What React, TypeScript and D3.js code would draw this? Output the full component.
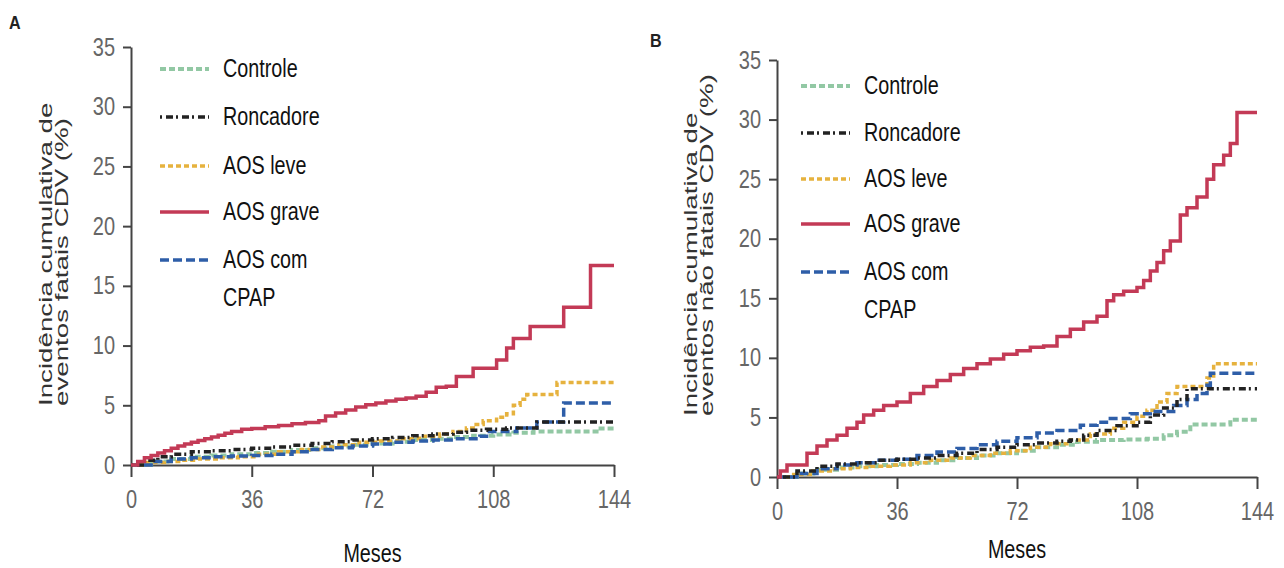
import * as d3 from 'd3';
import {useEffect, useRef} from "react";

// eixos
const monthTicks = [0, 36, 72, 108, 144];
const pctTicks = [0, 5, 10, 15, 20, 25, 30, 35];
const groups = ["Controle", "Roncadore", "AOS leve", "AOS grave", "AOS com CPAP"];

// painel A - eventos fatais (mes, %)
const controleA = [[0, 0], [6, 0.3], [12, 0.5], [18, 0.7], [24, 0.8], [30, 0.9], [36, 1.0], [42, 1.1], [48, 1.25], [54, 1.4], [60, 1.55], [66, 1.7], [72, 1.8], [78, 1.95], [84, 2.1], [90, 2.2], [96, 2.35], [102, 2.45], [108, 2.55], [114, 2.7], [120, 2.8], [140, 3.05], [144, 3.05]];
const roncadoreA = [[0, 0], [4, 0.4], [8, 0.7], [12, 0.9], [18, 1.1], [24, 1.2], [30, 1.3], [36, 1.4], [42, 1.5], [48, 1.65], [54, 1.8], [60, 1.95], [66, 2.1], [72, 2.2], [78, 2.3], [84, 2.45], [90, 2.6], [96, 2.75], [100, 2.9], [106, 3.0], [112, 3.1], [121, 3.6], [144, 3.6]];
const leveA = [[0, 0], [5, 0.2], [10, 0.3], [15, 0.4], [20, 0.5], [26, 0.6], [32, 0.7], [38, 0.9], [44, 1.1], [50, 1.3], [56, 1.5], [62, 1.7], [68, 1.9], [74, 2.0], [80, 2.2], [86, 2.4], [92, 2.6], [96, 2.8], [100, 3.1], [102, 3.4], [105, 3.7], [109, 4.0], [112, 4.3], [114, 5.0], [116, 5.5], [118, 5.9], [127, 6.9], [144, 6.9]];
const graveA = [[0, 0], [2, 0.3], [4, 0.6], [6, 0.8], [8, 1.0], [10, 1.2], [12, 1.4], [14, 1.6], [16, 1.75], [18, 1.9], [20, 2.05], [22, 2.2], [24, 2.35], [26, 2.5], [28, 2.65], [30, 2.8], [33, 3.0], [36, 3.05], [40, 3.2], [44, 3.3], [48, 3.45], [52, 3.55], [56, 3.7], [58, 4.1], [61, 4.35], [64, 4.6], [67, 4.85], [70, 5.05], [73, 5.2], [76, 5.35], [79, 5.5], [82, 5.6], [85, 5.75], [88, 6.1], [91, 6.5], [94, 6.6], [97, 7.4], [102, 8.1], [109, 8.8], [112, 9.8], [114, 10.6], [119, 11.6], [129, 13.2], [137, 16.7], [144, 16.7]];
const cpapA = [[0, 0], [6, 0.3], [12, 0.5], [18, 0.6], [24, 0.7], [30, 0.75], [36, 0.8], [42, 0.9], [48, 1.1], [54, 1.3], [60, 1.45], [66, 1.6], [72, 1.75], [78, 1.9], [84, 2.0], [90, 2.1], [96, 2.2], [104, 2.4], [106, 2.8], [115, 3.1], [121, 3.6], [129, 5.2], [144, 5.2]];

// painel B - eventos nao fatais (mes, %)
const controleB = [[0, 0], [6, 0.3], [12, 0.6], [18, 0.8], [24, 0.9], [30, 1.0], [36, 1.1], [42, 1.2], [48, 1.4], [54, 1.6], [60, 1.8], [66, 2.0], [72, 2.2], [78, 2.5], [84, 2.7], [90, 2.95], [96, 3.1], [104, 3.15], [111, 3.2], [116, 3.5], [120, 3.8], [124, 4.4], [136, 4.8], [144, 4.8]];
const roncadoreB = [[0, 0], [6, 0.5], [12, 0.9], [18, 1.1], [24, 1.2], [30, 1.4], [36, 1.5], [42, 1.6], [48, 1.8], [54, 2.0], [60, 2.3], [66, 2.5], [72, 2.7], [78, 2.85], [84, 3.0], [88, 3.1], [92, 3.5], [96, 3.9], [102, 4.3], [108, 4.6], [112, 5.2], [116, 5.8], [120, 6.5], [123, 7.4], [144, 7.4]];
const leveB = [[0, 0], [5, 0.2], [10, 0.5], [16, 0.7], [22, 0.8], [28, 0.9], [34, 1.0], [40, 1.2], [46, 1.4], [52, 1.6], [58, 1.8], [64, 2.0], [70, 2.2], [76, 2.5], [82, 2.8], [88, 3.1], [94, 3.6], [100, 4.1], [104, 4.6], [108, 5.1], [111, 5.6], [114, 6.3], [117, 7.0], [120, 7.6], [129, 8.3], [131, 9.5], [144, 9.5]];
const graveB = [[0, 0], [1, 0.5], [3, 1.0], [9, 2.0], [12, 2.6], [15, 3.1], [18, 3.5], [21, 4.1], [24, 4.6], [26, 5.2], [29, 5.6], [32, 6.0], [36, 6.3], [40, 7.0], [44, 7.6], [48, 8.1], [52, 8.6], [56, 9.1], [60, 9.5], [64, 9.9], [68, 10.3], [72, 10.6], [76, 10.9], [80, 11.0], [84, 11.8], [88, 12.4], [92, 13.0], [96, 13.5], [99, 14.8], [101, 15.3], [104, 15.6], [108, 15.9], [110, 16.5], [112, 17.3], [114, 18.0], [116, 19.0], [118, 19.8], [121, 22.0], [123, 22.6], [126, 23.5], [129, 25.0], [131, 26.2], [134, 27.0], [136, 28.0], [138, 30.6], [144, 30.6]];
const cpapB = [[0, 0], [6, 0.3], [12, 0.7], [18, 1.0], [24, 1.2], [30, 1.4], [36, 1.5], [42, 1.8], [48, 2.1], [54, 2.4], [60, 2.7], [66, 3.0], [72, 3.3], [78, 3.7], [84, 3.9], [91, 4.35], [96, 4.6], [100, 4.9], [106, 5.3], [112, 5.5], [119, 6.0], [123, 6.5], [126, 7.0], [129, 7.7], [130, 8.7], [144, 8.7]];

const colors = ["#92c8a4", "#222222", "#e6b23e", "#c33a56", "#2e5ea8"];
const dashes = ["6,3", "2,4,7,3", "5,3", "none", "9,4"];
const widths = [4, 3.5, 3.5, 3.5, 3.5];
const drawOrder = [0, 2, 4, 1, 3];

const sans = "'Liberation Sans', Arial, sans-serif";
const tickSqueeze = 0.8;  // rotulos dos eixos estreitos
const textSqueeze = 0.76; // imita Arial Narrow

function styleAxis(g) {
    g.selectAll("path, line").attr("stroke", "#444").attr("stroke-width", 2);
    g.selectAll("text")
        .attr("fill", "#666").attr("font-size", 25).attr("font-family", sans)
        .attr("x", function () { return (+d3.select(this).attr("x") || 0) / tickSqueeze; })
        .attr("transform", `scale(${tickSqueeze},1)`);
}

function Panel({letter, letterPos, xRange, yRange, series, title, titleX, titleStart, legendX, legendRows, mesesY}) {
    const gx = useRef();
    const gy = useRef();
    const x = d3.scaleLinear([0, 144], xRange);
    const y = d3.scaleLinear([0, 35], yRange);
    const line = d3.line().x(d => x(d[0])).y(d => y(d[1])).curve(d3.curveStepAfter);

    useEffect(() => {
        d3.select(gx.current)
            .call(d3.axisBottom(x).tickValues(monthTicks).tickSize(12).tickSizeOuter(0).tickPadding(13))
            .call(styleAxis);
    }, [gx, x]);
    useEffect(() => {
        d3.select(gy.current)
            .call(d3.axisLeft(y).tickValues(pctTicks).tickSize(8).tickSizeOuter(0).tickPadding(8))
            .call(styleAxis);
    }, [gy, y]);

    const tx = legendX + 63;
    return (
        <g>
            <text x={letterPos[0]} y={letterPos[1]} fontFamily={sans} fontWeight="bold" fontSize={19} fill="#222"
                  transform={`translate(${letterPos[0] * 0.15},0) scale(0.85,1)`}>{letter}</text>
            {title.map((t, i) => (
                <text key={i} transform={`translate(${titleX[i]},${titleStart}) rotate(-90) scale(1.54,1)`}
                      fontFamily={sans} fontSize={18} fill="#333">{t}</text>
            ))}
            <g ref={gx} transform={`translate(0,${yRange[0]})`}/>
            <g ref={gy} transform={`translate(${xRange[0]},0)`}/>
            {drawOrder.map(i => (
                <path key={i} d={line(series[i])} fill="none" stroke={colors[i]} strokeWidth={widths[i]}
                      strokeDasharray={dashes[i]}/>
            ))}
            {groups.map((name, i) => (
                <g key={name}>
                    <line x1={legendX} x2={legendX + 49} y1={legendRows[i] + 2} y2={legendRows[i] + 2}
                          stroke={colors[i]} strokeWidth={widths[i]} strokeDasharray={dashes[i]}/>
                    <text transform={`translate(${tx},${legendRows[i] + 10}) scale(${textSqueeze},1)`}
                          fontFamily={sans} fontSize={26} fill="#111">
                        {i < 4 ? name : (
                            <>
                                <tspan x={0}>AOS com</tspan>
                                <tspan x={0} dy={38}>CPAP</tspan>
                            </>
                        )}
                    </text>
                </g>
            ))}
            <text transform={`translate(${(xRange[0] + xRange[1]) / 2},${mesesY}) scale(${textSqueeze},1)`}
                  textAnchor="middle" fontFamily={sans} fontSize={26} fill="#111">Meses</text>
        </g>
    );
}

export default function App() {
    return (
        <svg width={1284} height={568} style={{position: "absolute", left: 0, top: 0, background: "#fff"}}>
            <Panel letter="A" letterPos={[9, 29]} xRange={[131, 614]} yRange={[465, 47]}
                   series={[controleA, roncadoreA, leveA, graveA, cpapA]}
                   title={["Incidência cumulativa de", "eventos fatais CDV (%)"]} titleX={[52, 68]} titleStart={406}
                   legendX={160} legendRows={[67, 115, 164, 210, 258]} mesesY={562}/>
            <Panel letter="B" letterPos={[650, 47]} xRange={[777, 1257]} yRange={[477, 60]}
                   series={[controleB, roncadoreB, leveB, graveB, cpapB]}
                   title={["Incidência cumulativa de", "eventos não fatais CDV (%)"]} titleX={[697, 713]} titleStart={416}
                   legendX={801} legendRows={[84, 131, 177, 222, 270]} mesesY={558}/>
        </svg>
    );
}
